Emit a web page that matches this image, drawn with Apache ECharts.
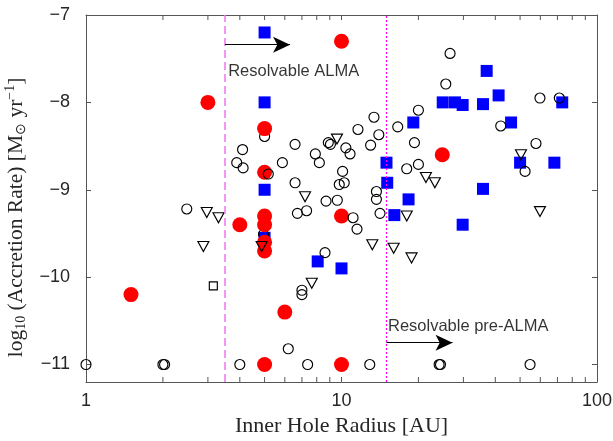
<!DOCTYPE html>
<html>
<head>
<meta charset="utf-8">
<script src="https://cdn.jsdelivr.net/npm/echarts@6/dist/echarts.min.js"></script>
<style>html,body{margin:0;padding:0;background:#fff}#c{width:613px;height:441px}</style>
</head>
<body>
<div id="c"></div>
<script>
// ---- data (x = inner hole radius [AU], y = log10 accretion rate) ----
const redCircles = [[1.5,-10.2],[3,-8],[5,-8.3],[5,-8.8],[5,-9.3],[5,-9.4],[5,-9.6],[5,-9.7],[4,-9.4],[10,-7.3],[10,-9.3],[6,-10.4],[5,-11],[10,-11],[24.8,-8.6]];
const blueSquares = [[5,-7.2],[5,-8],[5,-9],[5,-9.55],[15,-8.69],[15.1,-8.92],[16.1,-9.29],[18.3,-9.11],[19.1,-8.23],[24.9,-8],[27.8,-8],[29.8,-8.03],[35.8,-8.02],[37,-7.64],[41.2,-7.92],[46.1,-8.23],[73.1,-8],[50,-8.69],[68.1,-8.69],[35.8,-8.99],[29.8,-9.4],[8.07,-9.82],[10,-9.9]];
const openTriangles = [[2.97,-9.26],[3.3,-9.32],[2.88,-9.65],[4.87,-9.65],[7.2,-9.08],[9.6,-8.42],[21.4,-8.86],[23.2,-8.92],[18,-9.3],[13.2,-9.63],[16,-9.67],[18.8,-9.78],[7.65,-10.07],[50.4,-8.6],[59.8,-9.25]];
const openCircles = [[1,-11],[2,-11],[2.03,-11],[4,-11],[6.19,-10.82],[7.37,-11],[12.9,-11],[24.1,-11],[24.4,-11],[54.7,-11],
  [7,-10.15],[7,-10.2],[8.62,-9.72],[11.1,-9.32],[11.5,-9.45],[14.15,-9.27],[13.7,-9.02],[13.7,-9.11],[8.7,-9.13],[9.63,-9.12],[9.8,-8.94],[10.25,-8.92],[10.1,-8.79],[7.9,-8.59],[8.19,-8.69],[8.88,-8.46],[9.05,-8.48],[10.4,-8.52],[10.8,-8.59],[13.0,-8.49],[18,-8.76],[20,-8.71],[19.3,-8.46],
  [2.48,-9.22],[4.1,-8.54],[3.89,-8.69],[4.12,-8.75],[5.17,-8.82],[5.87,-8.69],[6.58,-8.48],[6.58,-8.92],[6.72,-9.27],[7.3,-9.24],
  [26.6,-7.44],[25.6,-7.79],[20,-8.09],[13.4,-8.17],[11.6,-8.31],[14,-8.37],[16.6,-8.28],[42,-8.27],[59.8,-7.95],[71.2,-7.95],[57.7,-8.47],[52.3,-8.79]];
const openCirclesBehind = [[5,-8.39],[4.95,-9.51]];
const openSquares = [[3.15,-10.1]];
const minorTicksX = [2,3,4,5,6,7,8,9,20,30,40,50,60,70,80,90];
const almaLimit = 3.5;
const preAlmaLimit = 15;
const arrowAlma = [[3.5,-7.34],[6.29,-7.34]];
const arrowPreAlma = [[15,-10.75],[27.2,-10.75]];
const textLabels = [{name:'Resolvable ALMA', value:[3.6,-7.65]}, {name:'Resolvable pre-ALMA', value:[15.2,-10.57]}];
const xRange = [1,100];
const yRange = [-11.2,-7];

const axisColor = '#555';
const labelFont = {fontFamily:'Liberation Sans', fontSize:18, color:'#262626'};
const chart = echarts.init(document.getElementById('c'), null, {renderer:'canvas'});
const openStyle = {color:'rgba(0,0,0,0)', borderColor:'#000', borderWidth:1.15, opacity:1};

const option = {
  animation:false,
  grid:{left:86,right:16,top:15,bottom:59, containLabel:false, outerBoundsMode:'none'},
  xAxis:[{
    type:'log', logBase:10, min:xRange[0], max:xRange[1],
    axisLine:{lineStyle:{color:axisColor,width:1}},
    axisTick:{inside:true,length:5,lineStyle:{color:axisColor}},
    axisLabel:Object.assign({margin:10}, labelFont),
    splitLine:{show:false},
    name:'Inner Hole Radius [AU]', nameLocation:'middle', nameGap:31,
    nameTextStyle:{fontFamily:'Liberation Serif', fontSize:22, color:'#262626'}
  },{
    type:'log', logBase:10, min:xRange[0], max:xRange[1], position:'top',
    axisLine:{lineStyle:{color:axisColor,width:1}},
    axisTick:{inside:true,length:5,lineStyle:{color:axisColor}},
    axisLabel:{show:false}, splitLine:{show:false}
  }],
  yAxis:[{
    type:'value', min:yRange[0], max:yRange[1],
    axisLine:{show:true,lineStyle:{color:axisColor,width:1}},
    axisTick:{show:true,inside:true,length:5,lineStyle:{color:axisColor}},
    axisLabel:Object.assign({margin:16, formatter:v => Math.abs(v-Math.round(v))<1e-6 ? String(Math.round(v)).replace('-','\u2212') : ''}, labelFont),
    splitLine:{show:false},
    name:'{t|log}{s|10}{t| (Accretion Rate) [M}{s|⊙}{t| yr}{p|−1}{t|]}',
    nameLocation:'middle', nameGap:52,
    nameTextStyle:{fontFamily:'Liberation Serif', fontSize:21.5, color:'#262626', padding:[0,38,0,0],
      rich:{
        t:{fontFamily:'Liberation Serif', fontSize:21.5, color:'#262626'},
        s:{fontFamily:'Liberation Serif', fontSize:14, color:'#262626', padding:[11,0,0,0]},
        p:{fontFamily:'Liberation Serif', fontSize:14, color:'#262626', padding:[0,0,11,0]}
      }}
  },{
    type:'value', min:yRange[0], max:yRange[1], position:'right',
    axisLine:{show:true,lineStyle:{color:axisColor,width:1}},
    axisTick:{show:true,inside:true,length:5,lineStyle:{color:axisColor}},
    axisLabel:{show:false}, splitLine:{show:false}
  }],
  series:[
    {type:'custom', silent:true, clip:false, data:minorTicksX.map(v=>[v]),
     renderItem:(params, api) => {
       const b = api.coord([api.value(0), yRange[0]]);
       const t = api.coord([api.value(0), yRange[1]]);
       const st = {stroke:axisColor, lineWidth:1};
       return {type:'group', children:[
         {type:'line', shape:{x1:b[0],y1:b[1],x2:b[0],y2:b[1]-5}, style:st},
         {type:'line', shape:{x1:t[0],y1:t[1],x2:t[0],y2:t[1]+5}, style:st}
       ]};
     }},
    {type:'scatter', data:blueSquares, symbol:'rect', symbolSize:12, itemStyle:{color:'#0000ff', opacity:1}, z:2},
    {type:'scatter', data:openCirclesBehind, symbol:'circle', symbolSize:10, itemStyle:openStyle, z:2},
    {type:'scatter', data:redCircles, symbol:'circle', symbolSize:15, itemStyle:{color:'#ff0000', opacity:1}, z:3},
    {type:'scatter', data:openCircles, symbol:'circle', symbolSize:10, itemStyle:openStyle, z:4},
    {type:'scatter', data:openTriangles, symbol:'triangle', symbolRotate:180, symbolSize:[11,10], itemStyle:openStyle, z:4},
    {type:'scatter', data:openSquares, symbol:'rect', symbolSize:8, itemStyle:openStyle, z:4,
     markLine:{silent:true, symbol:['none','none'], label:{show:false}, animation:false,
       data:[
         {xAxis:almaLimit, lineStyle:{color:'#f07cf0', width:1.6, type:[8,4], opacity:1}},
         {xAxis:preAlmaLimit, lineStyle:{color:'#ff00ff', width:1.2, type:[2,2], opacity:1}},
         [{coord:arrowAlma[0], symbol:'none', lineStyle:{color:'#000',width:1,type:'solid'}},
          {coord:arrowAlma[1], symbol:'arrow', symbolSize:[12,17]}],
         [{coord:arrowPreAlma[0], symbol:'none', lineStyle:{color:'#000',width:1,type:'solid'}},
          {coord:arrowPreAlma[1], symbol:'arrow', symbolSize:[12,17]}]
       ]}},
    {type:'scatter', data:textLabels, symbolSize:0, silent:true, z:5,
     label:{show:true, position:'right', distance:0, formatter:'{b}', fontFamily:'Liberation Sans', fontSize:16.5, color:'#000'}}
  ]
};
chart.setOption(option);
</script>
</body>
</html>
